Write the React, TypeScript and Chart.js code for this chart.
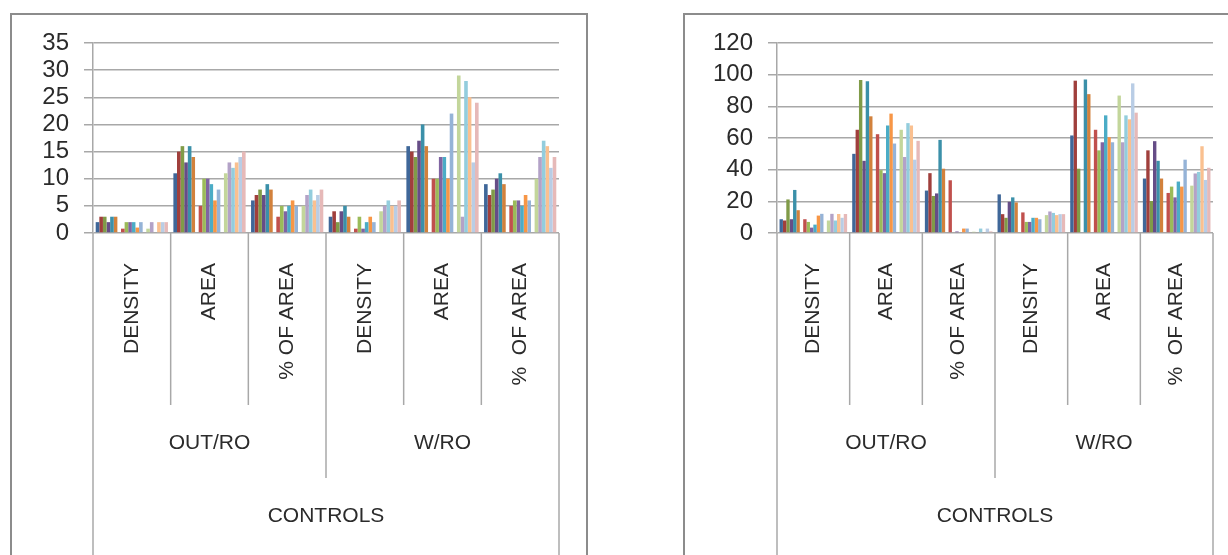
import React, { useEffect, useRef } from "react";
import { Chart, registerables } from "chart.js";

Chart.register(...registerables);

// ---- categories / labels ----
const categories = ["DENSITY", "AREA", "% OF AREA", "DENSITY", "AREA", "%  OF AREA"];
const groupLabels = ["OUT/RO", "W/RO"];
const outerLabel = "CONTROLS";

// ---- series colours (18 series; two empty slots are inserted after series 6 and 12) ----
const seriesColors = [
  "#3F6799", "#A03F3C", "#809B48", "#664D87", "#3B90A9", "#D2813C",
  "#C0504D", "#9BBB59", "#8064A2", "#4BACC6", "#F79646", "#95B3D7",
  "#C3D69B", "#B3A2C7", "#93CDDD", "#FAC090", "#B9CDE5", "#E6B9B8",
];

// ---- left chart values (18 series per category) ----
const leftOutDensity = [2, 3, 3, 2, 3, 3, 0.8, 2, 2, 2, 1, 2, 0.8, 2, 0, 2, 2, 2];
const leftOutArea = [11, 15, 16, 13, 16, 14, 5, 10, 10, 9, 6, 8, 11, 13, 12, 13, 14, 15];
const leftOutPct = [6, 7, 8, 7, 9, 8, 3, 5, 4, 5, 6, 5, 5, 7, 8, 6, 7, 8];
const leftWDensity = [3, 4, 2, 4, 5, 3, 0.8, 3, 0.8, 2, 3, 2, 4, 5, 6, 5, 5, 6];
const leftWArea = [16, 15, 14, 17, 20, 16, 10, 10, 14, 14, 10, 22, 29, 3, 28, 25, 13, 24];
const leftWPct = [9, 7, 8, 10, 11, 9, 5, 6, 6, 5, 7, 6, 10, 14, 17, 16, 12, 14];

// ---- right chart values ----
const rightOutDensity = [8.7, 7.9, 21.2, 8.7, 27.2, 14.4, 8.7, 7, 3.4, 5.3, 11, 12.1, 7.9, 12.1, 7.9, 12, 9.6, 12];
const rightOutArea = [50, 65.2, 96.6, 45.6, 95.8, 73.7, 62.4, 39.7, 37.8, 67.9, 75.4, 56.5, 65.2, 48, 69.4, 67.9, 46.3, 58.2];
const rightOutPct = [26.8, 37.8, 23.4, 25, 58.8, 40.6, 33.3, 0, 1, 0, 2.8, 2.8, 0.8, 0, 2.8, 0, 2.8, 1];
const rightWDensity = [24.4, 11.9, 9.6, 19.7, 22.5, 19.3, 13, 7, 7, 9.6, 9.6, 8.7, 11.3, 13.6, 12.7, 11.3, 11.9, 11.9];
const rightWArea = [61.6, 96.2, 40.6, 0, 97, 87.7, 65.2, 52.2, 57.3, 74.3, 60.5, 57.3, 86.8, 57.3, 74.3, 71.8, 94.5, 76];
const rightWPct = [34.4, 52.2, 20.2, 58, 45.6, 34.4, 25.3, 29.3, 22.5, 32.5, 29.3, 46.3, 29.9, 37.6, 38.6, 54.8, 33.5, 41.2];

const leftClusters = [leftOutDensity, leftOutArea, leftOutPct, leftWDensity, leftWArea, leftWPct];
const rightClusters = [rightOutDensity, rightOutArea, rightOutPct, rightWDensity, rightWArea, rightWPct];

const FONT = "'Liberation Sans', Arial, sans-serif";
const TEXT = "#2b2b2b";
const LINE = "#A8A8A8";
const SPACER_SLOTS = [6, 13];

function buildDatasets(clusters: number[][]) {
  const ds: any[] = [];
  let s = 0;
  for (let slot = 0; slot < 20; slot++) {
    if (SPACER_SLOTS.includes(slot)) {
      ds.push({ data: clusters.map(() => null), backgroundColor: "rgba(0,0,0,0)", borderWidth: 0 });
    } else {
      const idx = s;
      ds.push({
        data: clusters.map((c) => c[idx]),
        backgroundColor: seriesColors[idx],
        borderWidth: 0,
      });
      s++;
    }
  }
  return ds;
}

const multiLevelPlugin = {
  id: "multiLevel",
  afterDraw(chart: any) {
    const { ctx, chartArea } = chart;
    const n = categories.length;
    const w = (chartArea.right - chartArea.left) / n;
    const b = chartArea.bottom;
    const H = chart.height;
    ctx.save();
    ctx.strokeStyle = LINE;
    ctx.lineWidth = 1.5;
    for (let k = 0; k <= n; k++) {
      const xx = chartArea.left + k * w;
      let yEnd = b + 172;
      if (k === 0 || k === n) yEnd = H;
      else if (k === n / 2) yEnd = b + 245;
      ctx.beginPath();
      ctx.moveTo(xx, b);
      ctx.lineTo(xx, yEnd);
      ctx.stroke();
    }
    ctx.fillStyle = TEXT;
    ctx.font = `21px ${FONT}`;
    for (let i = 0; i < n; i++) {
      const cx = chartArea.left + (i + 0.5) * w;
      ctx.save();
      ctx.translate(cx, b + 30);
      ctx.rotate(-Math.PI / 2);
      ctx.textAlign = "right";
      ctx.textBaseline = "middle";
      ctx.fillText(categories[i], 0, 0);
      ctx.restore();
    }
    ctx.textAlign = "center";
    ctx.textBaseline = "middle";
    for (let g = 0; g < groupLabels.length; g++) {
      const cx = chartArea.left + (g * 3 + 1.5) * w;
      ctx.fillText(groupLabels[g], cx, b + 210);
    }
    ctx.fillText(outerLabel, (chartArea.left + chartArea.right) / 2, b + 283);
    ctx.restore();
  },
};

type PanelProps = {
  left: number;
  width: number;
  clusters: number[][];
  yMax: number;
  step: number;
  axisWidth: number;
  padRight: number;
  rightBorder: boolean;
};

const TOP = 13;
const HEIGHT = 555 - TOP;

function Panel({ left, width, clusters, yMax, step, axisWidth, padRight, rightBorder }: PanelProps) {
  const ref = useRef<HTMLCanvasElement>(null);
  useEffect(() => {
    if (!ref.current) return;
    const chart = new Chart(ref.current, {
      type: "bar",
      data: { labels: categories, datasets: buildDatasets(clusters) },
      options: {
        responsive: false,
        animation: false,
        devicePixelRatio: 1,
        layout: { padding: { left: 0, right: padRight, top: 30, bottom: HEIGHT - 220 } },
        plugins: { legend: { display: false }, tooltip: { enabled: false } },
        datasets: { bar: { categoryPercentage: 20 / 21.5, barPercentage: 1 } },
        scales: {
          x: { display: false },
          y: {
            min: 0,
            max: yMax,
            ticks: {
              stepSize: step,
              autoSkip: false,
              padding: 15,
              color: TEXT,
              font: { family: FONT, size: 24 },
            },
            grid: { color: LINE, lineWidth: 1.5, tickLength: 9, drawTicks: true },
            border: { color: LINE, width: 1.5 },
            afterFit: (s: any) => {
              s.width = axisWidth;
            },
          },
        },
      },
      plugins: [multiLevelPlugin],
    } as any);
    return () => chart.destroy();
  }, []);
  return (
    <>
      <canvas
        ref={ref}
        width={width}
        height={HEIGHT}
        style={{ position: "absolute", left, top: TOP, width, height: HEIGHT }}
      />
      <div
        style={{
          position: "absolute",
          left,
          top: TOP,
          width: width - (rightBorder ? 2 : 0),
          height: HEIGHT + 10,
          borderTop: "2px solid #8C8C8C",
          borderLeft: "2px solid #8C8C8C",
          borderRight: rightBorder ? "2px solid #8C8C8C" : "none",
          boxSizing: "border-box",
          pointerEvents: "none",
        }}
      />
    </>
  );
}

export default function App() {
  return (
    <div
      style={{
        position: "absolute",
        left: 0,
        top: 0,
        width: 1228,
        height: 555,
        overflow: "hidden",
        background: "#fff",
      }}
    >
      <Panel left={10} width={580} clusters={leftClusters} yMax={35} step={5} axisWidth={83} padRight={31} rightBorder={true} />
      <Panel left={683} width={560} clusters={rightClusters} yMax={120} step={20} axisWidth={94} padRight={30} rightBorder={false} />
    </div>
  );
}
